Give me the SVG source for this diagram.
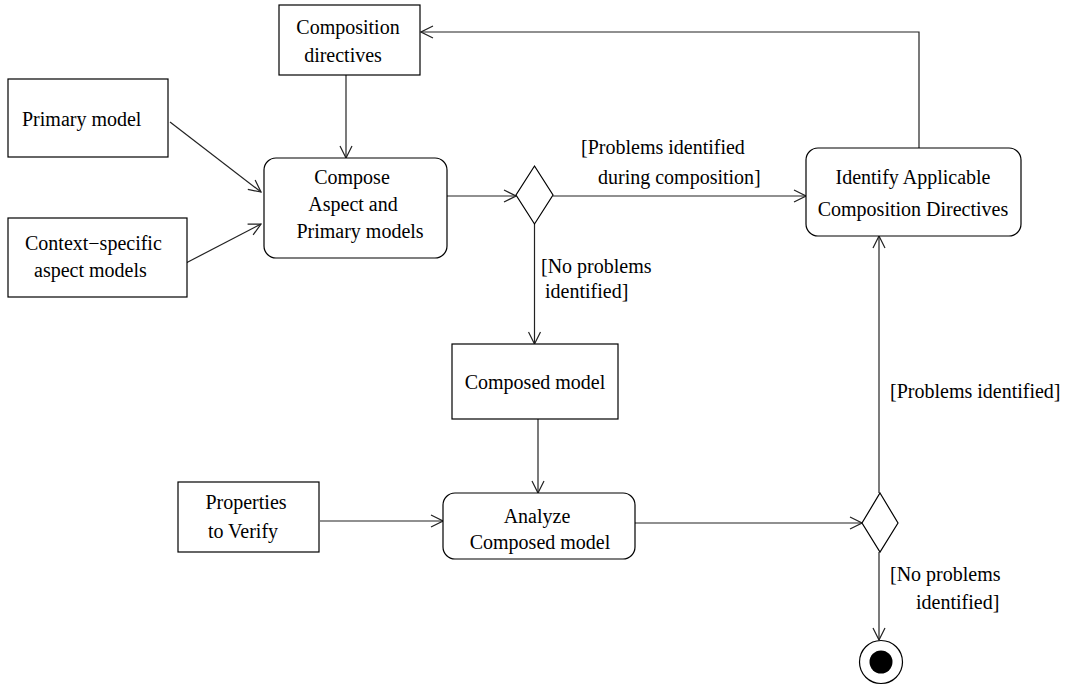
<svg xmlns="http://www.w3.org/2000/svg" width="1065" height="685" viewBox="0 0 1065 685">
<style>
.box{fill:#fff;stroke:#000;stroke-width:1.2}
.t{font-family:"Liberation Serif","Times New Roman",serif;font-size:20px;fill:#000}
.m{text-anchor:middle}
.c{fill:none;stroke:#222;stroke-width:1.2}
</style>
<defs>
<marker id="ah" markerUnits="userSpaceOnUse" markerWidth="14" markerHeight="14" viewBox="0 0 14 14" refX="13" refY="7" orient="auto">
<path d="M1,1 L13,7 L1,13" fill="none" stroke="#222" stroke-width="1.2"/>
</marker>
</defs>
<rect width="1065" height="685" fill="#fff"/>
<g id="connectors">
<line class="c" x1="346" y1="75" x2="346" y2="158" marker-end="url(#ah)"/>
<line class="c" x1="170" y1="122" x2="261" y2="192" marker-end="url(#ah)"/>
<line class="c" x1="186" y1="263" x2="261" y2="224" marker-end="url(#ah)"/>
<line class="c" x1="447" y1="196" x2="516" y2="196" marker-end="url(#ah)"/>
<line class="c" x1="553" y1="196" x2="806" y2="196" marker-end="url(#ah)"/>
<polyline class="c" points="919,148 919,32 421,32" marker-end="url(#ah)"/>
<line class="c" x1="534.5" y1="224" x2="534.5" y2="344" marker-end="url(#ah)"/>
<line class="c" x1="538" y1="419" x2="538" y2="493" marker-end="url(#ah)"/>
<line class="c" x1="320" y1="521" x2="443" y2="521" marker-end="url(#ah)"/>
<line class="c" x1="635" y1="523" x2="862" y2="523" marker-end="url(#ah)"/>
<line class="c" x1="879" y1="493" x2="879" y2="236" marker-end="url(#ah)"/>
<line class="c" x1="879" y1="552" x2="879" y2="640" marker-end="url(#ah)"/>
<text class="t" x="581" y="154">[Problems identified</text>
<text class="t" x="598" y="184">during composition]</text>
<text class="t" x="541" y="273">[No problems</text>
<text class="t" x="545" y="298">identified]</text>
<text class="t" x="890" y="398">[Problems identified]</text>
<text class="t" x="890" y="581">[No problems</text>
<text class="t" x="916" y="609">identified]</text>
</g>
<g id="composition-directives">
<rect class="box" x="279" y="5" width="141" height="70"/>
<text class="t m" x="348" y="34">Composition</text>
<text class="t m" x="343" y="62">directives</text>
</g>
<g id="primary-model">
<rect class="box" x="8" y="79" width="160" height="78"/>
<text class="t" x="22" y="126">Primary model</text>
</g>
<g id="aspect-models">
<rect class="box" x="8" y="218" width="179" height="79"/>
<text class="t" x="25" y="250">Context−specific</text>
<text class="t" x="34" y="277">aspect models</text>
</g>
<g id="compose">
<rect class="box" x="264" y="158" width="183" height="100" rx="12" ry="12"/>
<text class="t m" x="352" y="184">Compose</text>
<text class="t m" x="353" y="211">Aspect and</text>
<text class="t m" x="360" y="238">Primary models</text>
</g>
<g id="decision1">
<polygon class="box" points="534.5,166 553,195 534.5,224 516,195"/>
</g>
<g id="identify">
<rect class="box" x="806" y="148" width="215" height="88" rx="12" ry="12"/>
<text class="t m" x="913" y="184">Identify Applicable</text>
<text class="t m" x="913" y="216">Composition Directives</text>
</g>
<g id="composed-model">
<rect class="box" x="452" y="344" width="166" height="75"/>
<text class="t m" x="535" y="389">Composed model</text>
</g>
<g id="properties">
<rect class="box" x="178" y="482" width="141" height="70"/>
<text class="t m" x="246" y="509">Properties</text>
<text class="t m" x="243" y="538">to Verify</text>
</g>
<g id="analyze">
<rect class="box" x="443" y="493" width="192" height="66" rx="12" ry="12"/>
<text class="t m" x="537" y="523">Analyze</text>
<text class="t m" x="540" y="549">Composed model</text>
</g>
<g id="decision2">
<polygon class="box" points="880,493 898,523 880,552 862,523"/>
</g>
<g id="final">
<circle cx="881" cy="662" r="21.5" fill="#fff" stroke="#000" stroke-width="1.2"/>
<circle cx="881" cy="662" r="11.5" fill="#000"/>
</g>
</svg>
